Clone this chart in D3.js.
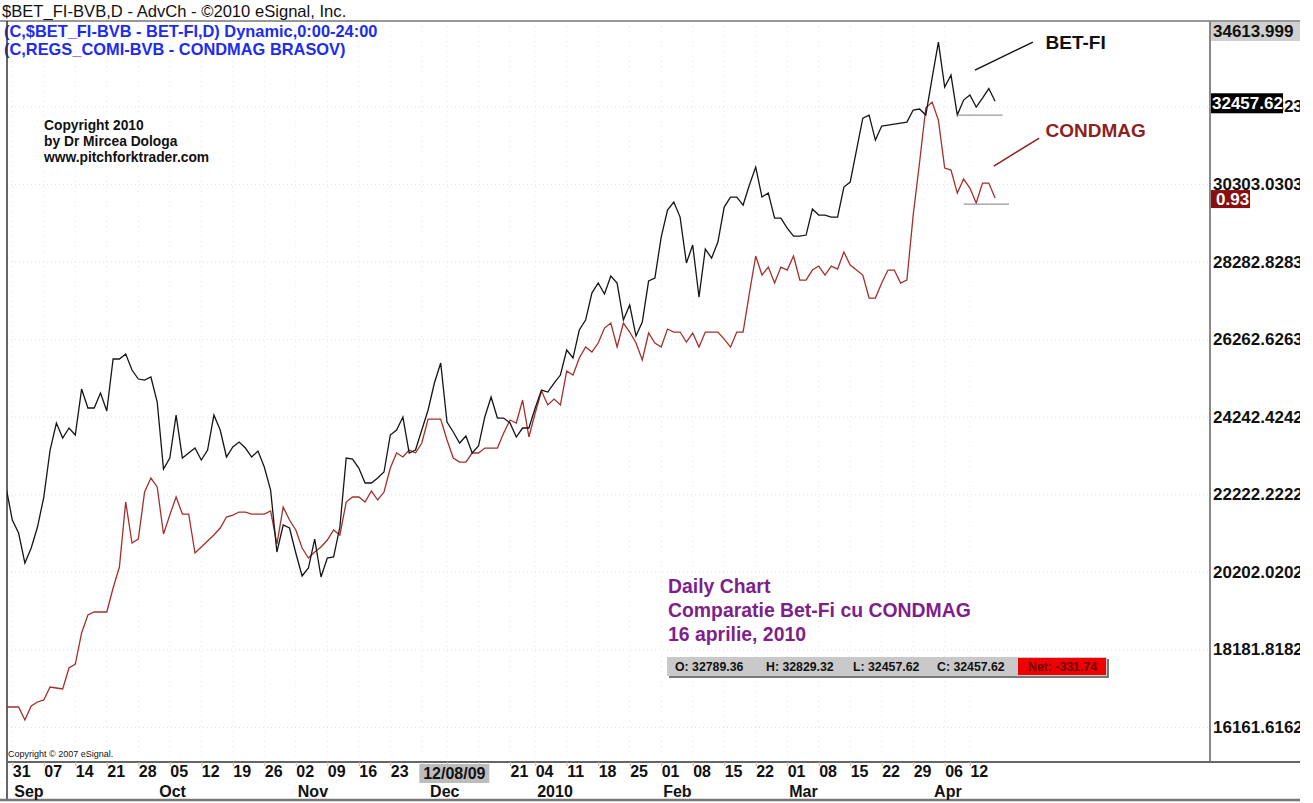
<!DOCTYPE html>
<html>
<head>
<meta charset="utf-8">
<script src="https://cdnjs.cloudflare.com/ajax/libs/d3/7.8.5/d3.min.js"></script>
<style>
body { margin: 0; background: #fff; }
text { font-family: "Liberation Sans", Arial, sans-serif; }
</style>
</head>
<body>
<script>
// daily closes, one value per trading day, 28 Aug 2009 .. 16 Apr 2010
var betfi = [
    22412, 21552, 21214, 20432, 20823, 21370, 22151, 23375, 24078, 23688,
    23948, 23766, 24963, 24469, 24469, 24859, 24391, 25745, 25745, 25875,
    25458, 25224, 25198, 25276, 24625, 22880, 23167, 24286, 23167, 23297,
    23427, 23115, 23375, 24286, 23896, 23193, 23453, 23583, 23427, 23193,
    23349, 22932, 22333, 20719, 21422, 21344, 20693, 20094, 20302, 21057,
    20068, 20563, 20589, 21370, 23167, 23141, 22906, 22516, 22516, 22646,
    22802, 23766, 23896, 24234, 23297, 23375, 23896, 24417, 25120, 25640,
    24104, 23844, 23557, 23740, 23297, 23479, 24234, 24755, 24208, 24208,
    24078, 23714, 23948, 23948, 24469, 24937, 24885, 25120, 25328, 25979,
    25771, 26500, 26760, 27463, 27724, 27437, 27906, 27724, 26760, 27151,
    26344, 26708, 27776, 27854, 28922, 29625, 29833, 29442, 28245, 28713,
    27359, 28609, 28375, 28791, 29703, 29963, 29963, 29755, 30276, 30744,
    29963, 30067, 29416, 29416, 29156, 28948, 28948, 28974, 29651, 29494,
    29494, 29442, 29442, 30224, 30354, 31187, 32020, 32098, 31447, 31812,
    31838, 31864, 31890, 31916, 32229, 32255, 32098, 33062, 33999, 32828,
    33140, 32098, 32489, 32619, 32307, 32541, 32789, 32457.62
];
// CONDMAG overlay (dynamic scaling onto the BET-FI price axis)
var condmag = [
    16683, 16683, 16683, 16344, 16709, 16813, 16865, 17203, 17177, 17151,
    17698, 17802, 18610, 19078, 19156, 19156, 19156, 19781, 20328, 22021,
    20953, 21057, 22281, 22646, 22412, 21188, 21682, 22151, 21708, 21708,
    20693, 20849, 21005, 21162, 21344, 21630, 21682, 21760, 21760, 21708,
    21708, 21708, 21787, 20927, 21891, 21552, 21292, 20823, 20563, 20719,
    20849, 21031, 21292, 21162, 22021, 22151, 22151, 22021, 22307, 22073,
    22281, 22906, 23297, 23193, 23375, 23297, 23557, 24182, 24182, 24182,
    23635, 23167, 23062, 23062, 23297, 23297, 23427, 23427, 23427, 23818,
    24156, 24078, 24677, 23714, 24339, 24911, 24547, 24703, 24547, 25432,
    25328, 25771, 26057, 25927, 26161, 26552, 26682, 26057, 26682, 26448,
    26161, 25719, 26422, 26161, 26057, 26526, 26448, 26448, 26187, 26422,
    26057, 26448, 26448, 26448, 26265, 26057, 26448, 26448, 27463, 28427,
    27932, 28140, 27724, 28140, 28062, 28427, 27802, 27802, 28062, 28166,
    27932, 28166, 28088, 28531, 28192, 28062, 27932, 27333, 27333, 27724,
    28062, 28062, 27724, 27802, 29494, 30849, 32281, 32437, 31968, 30718,
    30666, 30067, 30432, 30197, 29807, 30328, 30328, 29937
];
var condmagLast = "0.93";

var priceTicks = [16161.6162, 18181.8182, 20202.0202, 22222.2222, 24242.4242,
    26262.6263, 28282.8283, 30303.0303, 32323.2323];
var priceTop = "34613.999";

var dayTicks = [1, 6, 11, 16, 21, 26, 31, 36, 41, 46, 51, 56, 61, 66, 70, 75, 80, 84,
    89, 94, 99, 104, 109, 114, 119, 124, 129, 134, 139, 144, 149, 153];
var dayLabels = ["31", "07", "14", "21", "28", "05", "12", "19", "26", "02", "09", "16", "23",
    "30", "07", "14", "21", "04", "11", "18", "25", "01", "08", "15", "22", "01", "08", "15",
    "22", "29", "06", "12"];
var monthTicks = [1, 24, 46, 67, 84, 104, 124, 147];
var monthLabels = ["Sep", "Oct", "Nov", "Dec", "2010", "Feb", "Mar", "Apr"];
var cursorDay = 71;
var cursorLabel = "12/08/09";

var ohlcLabels = ["O: 32789.36", "H: 32829.32", "L: 32457.62", "C: 32457.62"];
var netLabel = "Net: -331.74";

var W = 1313, H = 803;
var pLeft = 7, pTop = 21, pRight = 1210, pBottom = 762;

var svg = d3.select("body").append("svg").attr("width", W).attr("height", H);

var x = d3.scaleLinear().domain([0, betfi.length - 1]).range([6, 995.1]);
var y = d3.scaleLinear().domain([16161.6162, 30303.0303]).range([727, 184]);

var defs = svg.append("defs");
defs.append("clipPath").attr("id", "plotclip").append("rect")
    .attr("x", pLeft).attr("y", pTop).attr("width", pRight - pLeft).attr("height", pBottom - pTop);

// faint dotted grid
var grid = svg.append("g").attr("clip-path", "url(#plotclip)");
grid.selectAll(".hg").data(priceTicks).enter().append("line")
    .attr("x1", pLeft).attr("x2", pRight)
    .attr("y1", function (d) { return y(d) + 0.5; })
    .attr("y2", function (d) { return y(d) + 0.5; })
    .style("stroke", "#e2e2e2").style("stroke-dasharray", "1,3");
grid.selectAll(".vg").data(dayTicks).enter().append("line")
    .attr("x1", function (d) { return x(d); }).attr("x2", function (d) { return x(d); })
    .attr("y1", pTop).attr("y2", pBottom)
    .style("stroke", "#e8e8e8").style("stroke-dasharray", "1,4");

// header
svg.append("text").attr("x", 2).attr("y", 17).text("$BET_FI-BVB,D - AdvCh - ©2010 eSignal, Inc.")
    .style("font-size", "16.6px").style("fill", "#111");
svg.append("text").attr("x", 4).attr("y", 37).text("(C,$BET_FI-BVB - BET-FI,D) Dynamic,0:00-24:00")
    .style("font-size", "16.4px").style("font-weight", "bold").style("fill", "#1c2cf0");
svg.append("text").attr("x", 4).attr("y", 55).text("(C,REGS_COMI-BVB - CONDMAG BRASOV)")
    .style("font-size", "16.4px").style("font-weight", "bold").style("fill", "#1c2cf0");

// frame
svg.append("line").attr("x1", 0).attr("x2", 1300).attr("y1", pTop).attr("y2", pTop)
    .style("stroke", "#777").style("stroke-width", 1.5);
svg.append("line").attr("x1", pLeft).attr("x2", pLeft).attr("y1", pTop).attr("y2", 800)
    .style("stroke", "#333").style("stroke-width", 1.5);
svg.append("line").attr("x1", pRight).attr("x2", pRight).attr("y1", pTop).attr("y2", pBottom)
    .style("stroke", "#888").style("stroke-width", 2);
svg.append("line").attr("x1", pLeft).attr("x2", 1300).attr("y1", pBottom).attr("y2", pBottom)
    .style("stroke", "#666").style("stroke-width", 2);
svg.append("line").attr("x1", 0).attr("x2", 1300).attr("y1", 800).attr("y2", 800)
    .style("stroke", "#777").style("stroke-width", 2.5);

// copyright blocks
var cp = ["Copyright 2010", "by Dr Mircea Dologa", "www.pitchforktrader.com"];
svg.selectAll(".cp").data(cp).enter().append("text")
    .attr("x", 44).attr("y", function (d, i) { return 130 + i * 16; })
    .text(function (d) { return d; })
    .style("font-size", "13.8px").style("font-weight", "bold").style("fill", "#111");
svg.append("text").attr("x", 8).attr("y", 757).text("Copyright © 2007 eSignal.")
    .style("font-size", "9px").style("fill", "#111");

// series
var line = d3.line().x(function (d, i) { return x(i); }).y(function (d) { return y(d); });
var plot = svg.append("g").attr("clip-path", "url(#plotclip)");
plot.append("path").datum(condmag).attr("d", line)
    .style("fill", "none").style("stroke", "#a3302c").style("stroke-width", 1.3);
plot.append("path").datum(betfi).attr("d", line)
    .style("fill", "none").style("stroke", "#151515").style("stroke-width", 1.3);

// support lines under the last lows
var n = betfi.length;
var betLow = d3.min(betfi.slice(149));
var conLow = d3.min(condmag.slice(150));
plot.append("line").attr("x1", x(151)).attr("x2", x(158.2))
    .attr("y1", y(betLow)).attr("y2", y(betLow)).style("stroke", "#999").style("stroke-width", 1.2);
plot.append("line").attr("x1", x(152)).attr("x2", x(159.2))
    .attr("y1", y(conLow) + 1).attr("y2", y(conLow) + 1).style("stroke", "#999").style("stroke-width", 1.2);

// annotations
plot.append("line").attr("x1", x(153.8)).attr("y1", y(33270)).attr("x2", x(163)).attr("y2", y(33999))
    .style("stroke", "#111").style("stroke-width", 1.5);
plot.append("line").attr("x1", x(156.8)).attr("y1", y(30770)).attr("x2", x(164)).attr("y2", y(31499))
    .style("stroke", "#8e1f1f").style("stroke-width", 1.5);
svg.append("text").attr("x", x(165)).attr("y", y(33999) + 7).text("BET-FI")
    .style("font-size", "19px").style("font-weight", "bold").style("fill", "#111");
svg.append("text").attr("x", x(165)).attr("y", y(31708) + 7).text("CONDMAG")
    .style("font-size", "19px").style("font-weight", "bold").style("fill", "#8e1f1f");

// purple title
var title = ["Daily Chart", "Comparatie Bet-Fi cu CONDMAG", "16 aprilie, 2010"];
svg.selectAll(".tt").data(title).enter().append("text")
    .attr("x", 668).attr("y", function (d, i) { return 593 + i * 24; })
    .text(function (d) { return d; })
    .style("font-size", "19.4px").style("font-weight", "bold").style("fill", "#7e1f8c");

// OHLC strip
svg.append("rect").attr("x", 669).attr("y", 659).attr("width", 440).attr("height", 19).style("fill", "#777");
svg.append("rect").attr("x", 667).attr("y", 657).attr("width", 440).attr("height", 19).style("fill", "#c9c9c9");
svg.selectAll(".ohlc").data(ohlcLabels).enter().append("text")
    .attr("x", function (d, i) { return [675, 766, 853, 937][i]; }).attr("y", 671)
    .text(function (d) { return d; })
    .style("font-size", "12.3px").style("font-weight", "bold").style("fill", "#111");
svg.append("rect").attr("x", 1018).attr("y", 658).attr("width", 88).attr("height", 17).style("fill", "#f00000");
svg.append("text").attr("x", 1028).attr("y", 671).text(netLabel)
    .style("font-size", "12.3px").style("font-weight", "bold").style("fill", "#6a0000");

// price axis
var yAxis = d3.axisRight(y).tickValues(priceTicks).tickSize(0).tickPadding(3)
    .tickFormat(d3.format(".4f"));
var ya = svg.append("g").attr("transform", "translate(" + pRight + ",0)").call(yAxis);
ya.select(".domain").remove();
ya.selectAll("text").style("font-size", "17px").style("font-weight", "bold")
    .style("font-family", "'Liberation Sans', Arial, sans-serif").style("fill", "#111");

var axg = svg.append("g");
axg.append("rect").attr("x", pRight + 1).attr("y", pTop + 1).attr("width", 90).attr("height", 19).style("fill", "#cfcfcf");
axg.append("text").attr("x", pRight + 3).attr("y", pTop + 16).text(priceTop)
    .style("font-size", "17px").style("font-weight", "bold").style("fill", "#111");

var lastY = y(betfi[n - 1]) + 2;
axg.append("rect").attr("x", pRight + 1).attr("y", lastY - 10).attr("width", 72).attr("height", 20).style("fill", "#000");
axg.append("text").attr("x", pRight + 2).attr("y", lastY + 6).text(d3.format(".2f")(betfi[n - 1]))
    .style("font-size", "17px").style("font-weight", "bold").style("fill", "#fff");

var conY = y(condmag[n - 1]) + 1;
axg.append("rect").attr("x", pRight + 1).attr("y", conY - 9).attr("width", 39).attr("height", 18).style("fill", "#8c0d0d");
axg.append("text").attr("x", pRight + 6).attr("y", conY + 6).text(condmagLast)
    .style("font-size", "17px").style("font-weight", "bold").style("fill", "#fff");

// white strip past the axis labels (they run off the edge in the original)
svg.append("rect").attr("x", 1300).attr("y", 0).attr("width", 13).attr("height", H).style("fill", "#fff");

// date axis (labels under the cursor box are hidden in the original)
var xAxis = d3.axisBottom(x).tickValues(dayTicks).tickSize(4).tickPadding(2)
    .tickFormat(function (d, i) { return Math.abs(d - cursorDay) < 6 ? "" : dayLabels[i]; });
var xa = svg.append("g").attr("transform", "translate(0," + pBottom + ")").call(xAxis);
xa.select(".domain").remove();
xa.selectAll("line").style("stroke", "#bbb");
xa.selectAll("text").attr("text-anchor", "start").attr("dx", 0).attr("y", 4).attr("dy", "0.71em")
    .style("font-size", "16px").style("font-weight", "bold")
    .style("font-family", "'Liberation Sans', Arial, sans-serif").style("fill", "#111");

svg.append("rect").attr("x", x(cursorDay) - 34).attr("y", pBottom + 2).attr("width", 70).attr("height", 19)
    .style("fill", "#bdbdbd");
svg.append("text").attr("x", x(cursorDay) + 1).attr("y", pBottom + 17).attr("text-anchor", "middle")
    .text(cursorLabel).style("font-size", "16px").style("font-weight", "bold").style("fill", "#111");

svg.selectAll(".mon").data(monthTicks).enter().append("text")
    .attr("x", function (d) { return x(d) + 2; }).attr("y", 797)
    .text(function (d, i) { return monthLabels[i]; })
    .style("font-size", "16px").style("font-weight", "bold").style("fill", "#111");
</script>
</body>
</html>
